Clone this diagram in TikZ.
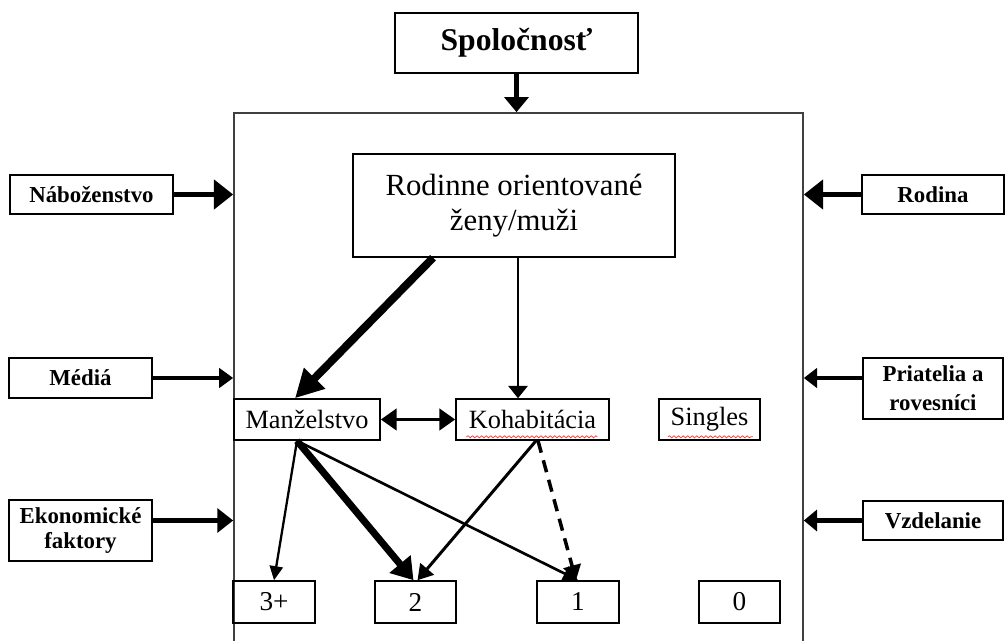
\documentclass[tikz,border=0pt]{standalone}
\usepackage{fontspec}
\setmainfont{Liberation Serif}
\usetikzlibrary{arrows.meta,decorations.pathmorphing}

\begin{document}
\begin{tikzpicture}[x=0.02cm,y=-0.02cm,
        box/.style={draw,line width=0.9pt,inner sep=0pt,align=center},
        side/.style={box,font=\bfseries\fontsize{13}{15.5}\selectfont},
        kind/.style={box,font=\fontsize{15}{18}\selectfont,minimum height=0.82cm},
        num/.style={box,font=\fontsize{15.5}{18}\selectfont,minimum width=1.63cm,minimum height=0.84cm},
        arr/.style n args={3}{line width=#1,-{Triangle[length=#2,width=#3]}},
        wavy/.style={red!80,line width=0.4pt,decorate,decoration={snake,amplitude=0.6pt,segment length=2.6pt}}]
    \useasboundingbox (0,0) rectangle (1006,641);

    % the frame (its bottom edge lies below the page)
    \node[draw,black!75,line width=1pt,minimum width=11.38cm,minimum height=11.4cm] (frame) at (518.5,398) {};

    % influences
    \node[side,minimum width=4.86cm,minimum height=1.2cm,font=\bfseries\fontsize{18}{20}\selectfont] (spol) at (516.5,43) {Spoločnosť};
    \node[side,minimum width=3.26cm,minimum height=0.78cm] (nab) at (91.5,194.5) {Náboženstvo};
    \node[side,minimum width=2.86cm,minimum height=0.8cm] (med) at (80.5,378) {Médiá};
    \node[side,minimum width=2.86cm,minimum height=1.22cm,font=\bfseries\fontsize{13}{14.5}\selectfont] (eko) at (80.5,530.5) {Ekonomické\\faktory};
    \node[side,minimum width=2.84cm,minimum height=0.78cm] (rod) at (933,194.5) {Rodina};
    \node[side,minimum width=2.8cm,minimum height=1.22cm,font=\bfseries\fontsize{13}{16.5}\selectfont] (pri) at (933,388.5) {Priatelia a\\rovesníci};
    \node[side,minimum width=2.8cm,minimum height=0.78cm] (vzd) at (933,520.5) {Vzdelanie};

    \draw[arr={2.8pt}{8.5pt}{13.5pt}] (spol.south) -- (spol.south |- frame.north);
    \draw[arr={3.4pt}{11pt}{16.5pt}] (nab) -- (nab -| frame.west);
    \draw[arr={3.4pt}{11pt}{16.5pt}] (rod) -- (rod -| frame.east);
    \draw[arr={2pt}{8pt}{11pt}] (med) -- (med -| frame.west);
    \draw[arr={2pt}{7.5pt}{11pt}] (pri.west |- med) -- (frame.east |- med);
    \draw[arr={2.8pt}{9pt}{13.5pt}] (eko.east |- vzd) -- (frame.west |- vzd);
    \draw[arr={2.4pt}{7.5pt}{12pt}] (vzd) -- (vzd -| frame.east);

    % inside
    \node[box,minimum width=6.44cm,minimum height=2.06cm,font=\fontsize{17.5}{20}\selectfont] (ori) at (514,205.5) {Rodinne orientované\\ženy/muži};
    \node[kind,minimum width=2.92cm] (man) at (307,419.5) {Manželstvo};
    \node[kind,minimum width=3.06cm] (koh) at (532.5,419.5) {Kohabitácia};
    \node[kind,minimum width=2.02cm] (sin) at (709.5,419.5) {Singles};

    \node[num] (n3) at (274,602) {3+};
    \node[num] (n2) at (415.5,602) {2};
    \node[num] (n1) at (578,602) {1};
    \node[num] (n0) at (739.5,602) {0};

    \draw[arr={4.5pt}{16pt}{16pt}] ([xshift=-1.62cm]ori.south) -- ([xshift=-0.24cm]man.north);
    \draw[arr={1.1pt}{7pt}{11pt}] ([xshift=0.08cm]ori.south) -- ([xshift=0.08cm]ori.south |- koh.north);
    \draw[line width=2.2pt,{Triangle[length=9pt,width=12pt]}-{Triangle[length=9pt,width=12pt]}] (man) -- (koh);

    \draw[arr={1.3pt}{8pt}{7.5pt}] ([xshift=-0.2cm]man.south) -- (n3.north);
    \draw[arr={4pt}{12pt}{15pt}] ([xshift=-0.2cm]man.south) -- ([xshift=-0.04cm]n2.north);
    \draw[arr={1.5pt}{8.5pt}{9pt}] ([xshift=-0.2cm]man.south) -- (n1.north);
    \draw[arr={1.7pt}{8.5pt}{10pt}] ([xshift=0.07cm]koh.south) -- ([xshift=0.04cm]n2.north);
    \draw[arr={2pt}{8.5pt}{10pt},dash pattern=on 7pt off 4.5pt] ([xshift=0.11cm]koh.south) -- ([xshift=-0.04cm]n1.north);

    % spell-check marks
    \draw[wavy] ([xshift=-1.32cm,yshift=0.08cm]koh.south) -- ([xshift=1.3cm,yshift=0.08cm]koh.south);
    \draw[wavy] ([xshift=-0.83cm,yshift=0.08cm]sin.south) -- ([xshift=0.87cm,yshift=0.08cm]sin.south);
\end{tikzpicture}
\end{document}
